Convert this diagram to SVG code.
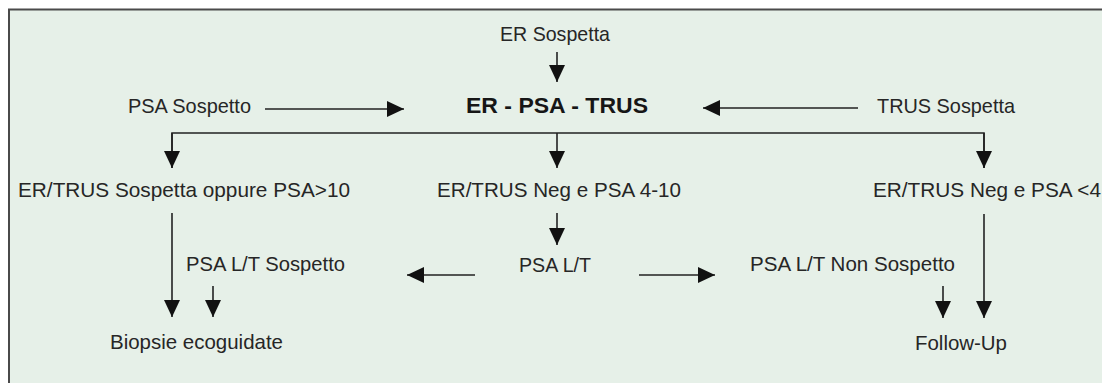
<svg xmlns="http://www.w3.org/2000/svg" width="1102" height="383" viewBox="0 0 1102 383">
<style>
.t{font-family:"Liberation Sans",Arial,sans-serif;font-size:21px;fill:#262626}
.b{font-family:"Liberation Sans",Arial,sans-serif;font-size:22.5px;font-weight:bold;fill:#161616}
.c{fill:none;stroke:#222;stroke-width:1.6}
</style>
<defs>
<marker id="ah" markerUnits="userSpaceOnUse" markerWidth="17" markerHeight="17" refX="17" refY="8" orient="auto">
<path d="M0,0 L17,8 L0,16 Z" fill="#111"/>
</marker>
</defs>
<rect x="0" y="0" width="1102" height="383" fill="#ffffff"/>
<rect x="9" y="9.5" width="1110" height="390" fill="#e6f0e8" stroke="#4a4a4a" stroke-width="2"/>
<g id="connectors">
<line class="c" x1="557" y1="52" x2="557" y2="82" marker-end="url(#ah)"/>
<line class="c" x1="265" y1="109" x2="404" y2="109" marker-end="url(#ah)"/>
<line class="c" x1="858" y1="108" x2="703" y2="108" marker-end="url(#ah)"/>
<polyline class="c" points="172,168 172,133 984,133 984,168"/>
<line class="c" x1="172" y1="133" x2="172" y2="168" marker-end="url(#ah)"/>
<line class="c" x1="557" y1="133" x2="557" y2="168" marker-end="url(#ah)"/>
<line class="c" x1="984" y1="133" x2="984" y2="168" marker-end="url(#ah)"/>
<line class="c" x1="557" y1="213" x2="557" y2="245" marker-end="url(#ah)"/>
<line class="c" x1="475" y1="275" x2="407" y2="275" marker-end="url(#ah)"/>
<line class="c" x1="639" y1="275" x2="715" y2="275" marker-end="url(#ah)"/>
<line class="c" x1="172" y1="213" x2="172" y2="317" marker-end="url(#ah)"/>
<line class="c" x1="213" y1="286" x2="213" y2="317" marker-end="url(#ah)"/>
<line class="c" x1="943" y1="286" x2="943" y2="318" marker-end="url(#ah)"/>
<line class="c" x1="984" y1="214" x2="984" y2="318" marker-end="url(#ah)"/>
</g>
<g id="n-er-sospetta"><text class="t" x="500" y="41" textLength="110" lengthAdjust="spacingAndGlyphs">ER Sospetta</text></g>
<g id="n-main"><text class="b" x="466" y="113" textLength="182" lengthAdjust="spacingAndGlyphs">ER - PSA - TRUS</text></g>
<g id="n-psa-sospetto"><text class="t" x="128" y="113" textLength="123" lengthAdjust="spacingAndGlyphs">PSA Sospetto</text></g>
<g id="n-trus-sospetta"><text class="t" x="877" y="113" textLength="138" lengthAdjust="spacingAndGlyphs">TRUS Sospetta</text></g>
<g id="n-left"><text class="t" x="18" y="197" textLength="332" lengthAdjust="spacingAndGlyphs">ER/TRUS Sospetta oppure PSA&gt;10</text></g>
<g id="n-mid"><text class="t" x="437" y="197" textLength="244" lengthAdjust="spacingAndGlyphs">ER/TRUS Neg e PSA 4-10</text></g>
<g id="n-right"><text class="t" x="873" y="197" textLength="228" lengthAdjust="spacingAndGlyphs">ER/TRUS Neg e PSA &lt;4</text></g>
<g id="n-psalt"><text class="t" x="519" y="272" textLength="72" lengthAdjust="spacingAndGlyphs">PSA L/T</text></g>
<g id="n-psalt-sosp"><text class="t" x="186" y="271" textLength="159" lengthAdjust="spacingAndGlyphs">PSA L/T Sospetto</text></g>
<g id="n-psalt-non"><text class="t" x="750" y="271" textLength="205" lengthAdjust="spacingAndGlyphs">PSA L/T Non Sospetto</text></g>
<g id="n-biopsie"><text class="t" x="110" y="349" textLength="173" lengthAdjust="spacingAndGlyphs">Biopsie ecoguidate</text></g>
<g id="n-followup"><text class="t" x="915" y="350" textLength="92" lengthAdjust="spacingAndGlyphs">Follow-Up</text></g>
</svg>
